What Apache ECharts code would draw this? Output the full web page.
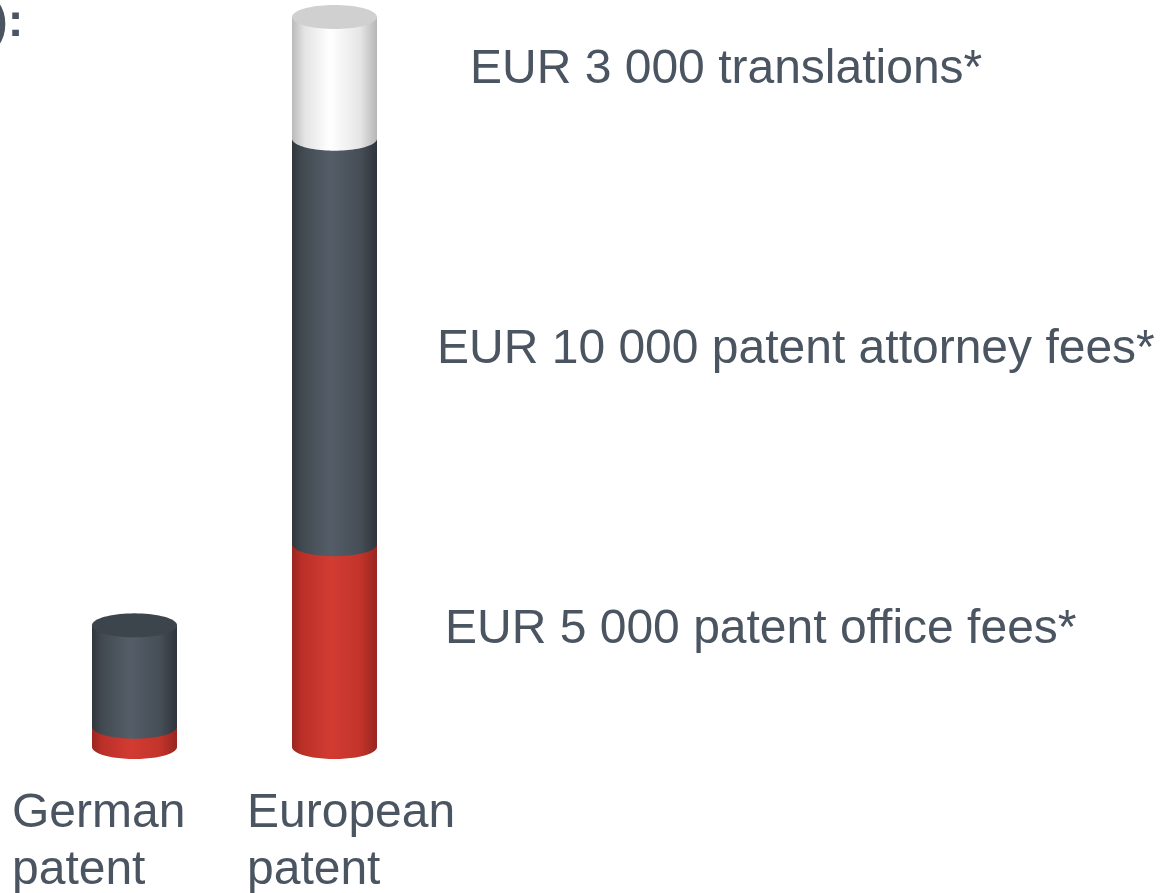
<!DOCTYPE html>
<html>
<head>
<meta charset="utf-8">
<script src="https://cdn.jsdelivr.net/npm/echarts@6/dist/echarts.min.js"></script>
<style>
  html, body { margin: 0; padding: 0; background: #fff; }
  #chart { width: 1166px; height: 893px; }
</style>
</head>
<body>
<div id="chart"></div>
<script>
var categories = ['German patent', 'European patent'];
var officeFees = [500, 5000];
var attorneyFees = [2500, 10000];
var translations = [0, 3000];
var segmentLabels = ['EUR 5 000 patent office fees*', 'EUR 10 000 patent attorney fees*', 'EUR 3 000 translations*'];
var categoryLabels = ['German\npatent', 'European\npatent'];

var textColor = '#4a5561';
var font = '"Liberation Sans", Arial, sans-serif';

// stack the three cost parts, remember which part is the top one of each column
var layers = [officeFees, attorneyFees, translations];
var stackData = layers.map(function () { return []; });
categories.forEach(function (c, i) {
    var base = 0, topLayer = 0;
    layers.forEach(function (arr, k) { if (arr[i] > 0) topLayer = k; });
    layers.forEach(function (arr, k) {
        stackData[k].push([i, base, base + arr[i], k === topLayer ? 1 : 0]);
        base += arr[i];
    });
});

function grad(stops) {
    return {
        type: 'linear', x: 0, y: 0, x2: 1, y2: 0,
        colorStops: stops.map(function (s) { return { offset: s[0], color: s[1] }; })
    };
}

var bodyFills = [
    grad([[0, '#9a261f'], [0.12, '#ba3028'], [0.45, '#d23b32'], [0.8, '#c3342b'], [1, '#982620']]),
    grad([[0, '#30363c'], [0.12, '#424a51'], [0.45, '#545e68'], [0.8, '#464e56'], [1, '#2f353b']]),
    grad([[0, '#bababa'], [0.15, '#e4e4e4'], [0.45, '#ffffff'], [0.8, '#e6e6e6'], [1, '#b6b6b6']])
];
var capFills = ['#c0352c', '#3d454c', '#d0d0d0'];

function makeRender(k) {
    return function (params, api) {
        var cat = api.value(0), start = api.value(1), end = api.value(2), isTop = api.value(3);
        if (end <= start) return;
        var pb = api.coord([cat, start]);
        var pt = api.coord([cat, end]);
        var rx = api.size([1, 0])[0] * 0.2125;
        var ry = 12;
        var cx = pb[0];
        var body = [[cx - rx, pt[1]], [cx - rx, pb[1]]];
        var n = 48, i, a;
        for (i = 1; i < n; i++) {
            a = Math.PI * i / n;
            body.push([cx - rx * Math.cos(a), pb[1] + ry * Math.sin(a)]);
        }
        body.push([cx + rx, pb[1]], [cx + rx, pt[1]]);
        var children = [{
            type: 'polygon',
            shape: { points: body },
            style: { fill: bodyFills[k] }
        }];
        if (isTop) {
            var cap = [];
            for (i = 0; i < 72; i++) {
                a = Math.PI * 2 * i / 72;
                cap.push([cx + rx * Math.cos(a), pt[1] + ry * Math.sin(a)]);
            }
            children.push({
                type: 'polygon',
                shape: { points: cap },
                style: { fill: capFills[k] }
            });
        }
        return { type: 'group', children: children };
    };
}

var chart = echarts.init(document.getElementById('chart'));
chart.setOption({
    backgroundColor: '#fff',
    animation: false,
    grid: { left: 34.5, width: 400, top: 17, bottom: 146 },
    xAxis: { type: 'category', data: categories, show: false },
    yAxis: { type: 'value', min: 0, max: 18000, show: false },
    series: stackData.map(function (d, k) {
        return {
            type: 'custom',
            name: segmentLabels[k],
            renderItem: makeRender(k),
            encode: { x: 0, y: [1, 2] },
            clip: false,
            data: d
        };
    }),
    graphic: [
        { type: 'text', left: -8, top: 0, style: { text: '):', font: 'bold 47px ' + font, fill: textColor } },
        { type: 'text', x: 470, y: 70, style: { text: segmentLabels[2], font: '48px ' + font, fill: textColor, verticalAlign: 'middle' } },
        { type: 'text', x: 437, y: 350, style: { text: segmentLabels[1], font: '48px ' + font, fill: textColor, verticalAlign: 'middle' } },
        { type: 'text', x: 445, y: 630, style: { text: segmentLabels[0], font: '48px ' + font, fill: textColor, verticalAlign: 'middle' } },
        { type: 'text', x: 12, y: 785, style: { text: categoryLabels[0], font: '48px ' + font, lineHeight: 57, fill: textColor } },
        { type: 'text', x: 247, y: 785, style: { text: categoryLabels[1], font: '48px ' + font, lineHeight: 57, fill: textColor } }
    ]
});
</script>
</body>
</html>
